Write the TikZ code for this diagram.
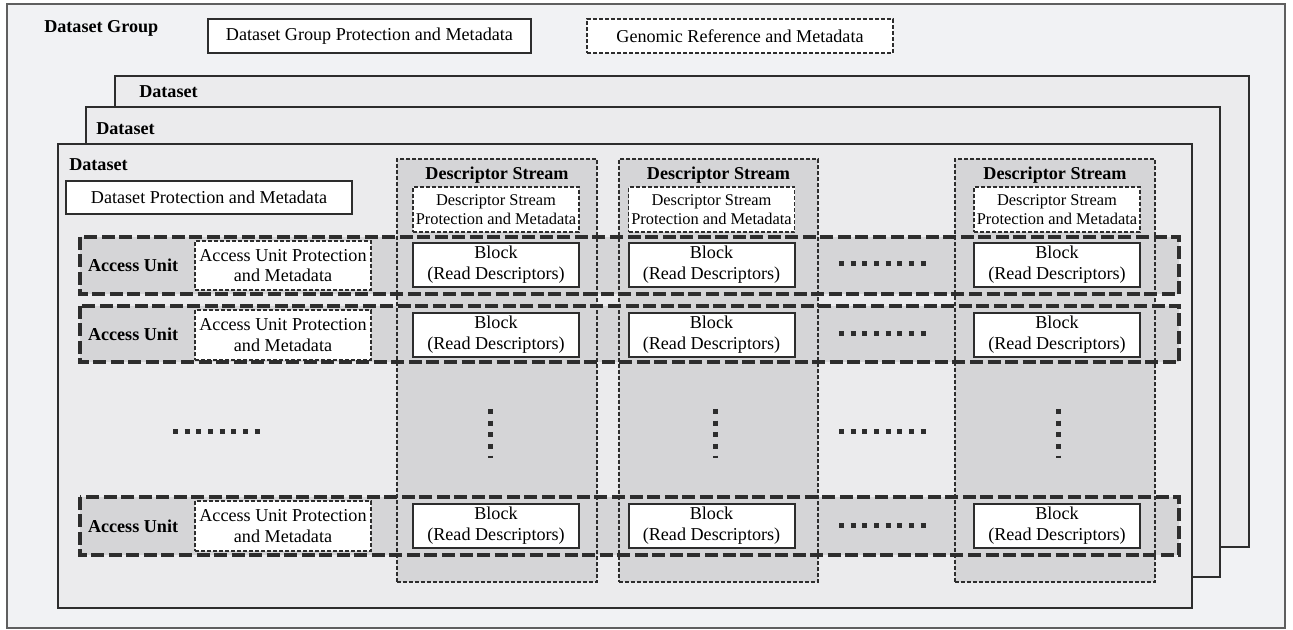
\documentclass[tikz,border=0pt]{standalone}
\usepackage{fontspec}
\setmainfont{Liberation Serif}
\usetikzlibrary{positioning, fit}

\definecolor{groupbg}{RGB}{241,242,244}
\definecolor{setbg}{RGB}{235,235,237}
\definecolor{streambg}{RGB}{213,213,215}
\definecolor{edgegray}{RGB}{45,45,45}
\definecolor{outergray}{RGB}{95,95,95}

\begin{document}
\begin{tikzpicture}[x=0.75pt, y=-0.75pt,
	every node/.style={font=\fontsize{13.6}{15.6}\selectfont, inner sep=0pt},
	boxsize/.style 2 args={minimum width=#1*0.75pt, minimum height=#2*0.75pt},
	groupbox/.style={draw=outergray, line width=1.5pt, fill=groupbg},
	setbox/.style={draw=edgegray, line width=1.5pt, fill=setbg},
	infobox/.style={draw=edgegray, line width=1.5pt, fill=white, align=center},
	dashinfo/.style={draw=edgegray, line width=1pt, dash pattern=on 3pt off 1.5pt, fill=white, align=center},
	streambox/.style={draw=edgegray, line width=1pt, dash pattern=on 3pt off 1.5pt, fill=streambg},
	unitfill/.style={fill=streambg},
	unitedge/.style={draw=edgegray, line width=3pt, dash pattern=on 9.75pt off 3.4pt},
	title/.style={font=\fontsize{13.6}{15.6}\selectfont\bfseries},
	smalltext/.style={font=\fontsize{12.3}{14.2}\selectfont},
	blockbox/.style={infobox, boxsize={166}{44}},
	dotline/.style={draw=edgegray, line width=3.75pt, dash pattern=on 3.75pt off 5pt}]
	\useasboundingbox (0,0) rectangle (1293,630);

	% dataset group and stacked datasets
	\node (group) [groupbox, fit={(7,4) (1285,628)}] {};
	\node (grouplbl) [title, below right=12.75pt and 28.5pt of group.north west, anchor=north west] {Dataset Group};
	\node (groupmeta) [infobox, boxsize={323}{34}] at (369.5,36) {Dataset Group Protection and Metadata};
	\node (genomic) [dashinfo, boxsize={306}{34}] at (740,36) {Genomic Reference and Metadata};

	\node (set3) [setbox, fit={(115,76) (1249,547)}] {};
	\node (set3lbl) [title, below right=7.5pt and 18.75pt of set3.north west, anchor=north west] {Dataset};
	\node (set2) [setbox, fit={(86,107) (1220,577)}] {};
	\node (set2lbl) [title, below right=12pt and 8.25pt of set2.north west, anchor=north west] {Dataset};
	\node (set1) [setbox, fit={(58,144) (1192,608)}] {};
	\node (set1lbl) [title, below right=11.25pt and 9pt of set1.north west, anchor=north west] {Dataset};
	\node (setmeta) [infobox, boxsize={286}{33}] at (209,197.5) {Dataset Protection and Metadata};

	% access unit rows (fill first, edges after the streams)
	\node (unit1) [unitfill, fit={(80,237) (1179,294)}] {};
	\node (unit2) [unitfill, fit={(80,306) (1179,362)}] {};
	\node (unit3) [unitfill, fit={(80,497) (1179,555)}] {};

	% descriptor streams
	\node (stream1) [streambox, fit={(397,159) (597,582)}] {};
	\node (stream2) [streambox, fit={(619,159) (818,582)}] {};
	\node (stream3) [streambox, fit={(955,159) (1155,582)}] {};

	\draw[unitedge] (unit1.north west) rectangle (unit1.south east);
	\draw[unitedge] (unit2.north west) rectangle (unit2.south east);
	\draw[unitedge] (unit3.north west) rectangle (unit3.south east);

	\node (stream1head) [title, below=6pt of stream1.north] {Descriptor Stream};
	\node (stream2head) [title, below=6pt of stream2.north] {Descriptor Stream};
	\node (stream3head) [title, below=6pt of stream3.north] {Descriptor Stream};
	\node (stream1meta) [dashinfo, smalltext, boxsize={166}{45}] at (496,209.5) {Descriptor Stream\\Protection and Metadata};
	\node (stream2meta) [dashinfo, smalltext, boxsize={166}{45}] at (711.5,209.5) {Descriptor Stream\\Protection and Metadata};
	\node (stream3meta) [dashinfo, smalltext, boxsize={166}{45}] at (1057,209.5) {Descriptor Stream\\Protection and Metadata};

	% access unit contents
	\node (unit1lbl) [title, right=6pt of unit1.west] {Access Unit};
	\node (unit2lbl) [title, right=6pt of unit2.west] {Access Unit};
	\node (unit3lbl) [title, right=6pt of unit3.west] {Access Unit};
	\node (unit1meta) [dashinfo, boxsize={176}{49}] at (283,265.5) {Access Unit Protection\\and Metadata};
	\node (unit2meta) [dashinfo, boxsize={176}{50}] at (283,335) {Access Unit Protection\\and Metadata};
	\node (unit3meta) [dashinfo, boxsize={176}{50}] at (283,526) {Access Unit Protection\\and Metadata};

	\node (block11) [blockbox] at (496,265) {Block\\(Read Descriptors)};
	\node (block12) [blockbox] at (711.5,265) {Block\\(Read Descriptors)};
	\node (block13) [blockbox] at (1057,265) {Block\\(Read Descriptors)};
	\node (block21) [blockbox] at (496,335) {Block\\(Read Descriptors)};
	\node (block22) [blockbox] at (711.5,335) {Block\\(Read Descriptors)};
	\node (block23) [blockbox] at (1057,335) {Block\\(Read Descriptors)};
	\node (block31) [blockbox] at (496,526) {Block\\(Read Descriptors)};
	\node (block32) [blockbox] at (711.5,526) {Block\\(Read Descriptors)};
	\node (block33) [blockbox] at (1057,526) {Block\\(Read Descriptors)};

	% ellipsis dots
	\draw[dotline] (839,264) -- (926,264);
	\draw[dotline] (839,334) -- (926,334);
	\draw[dotline] (839,526) -- (926,526);
	\draw[dotline] (839,432) -- (926,432);
	\draw[dotline] (173,432) -- (260,432);
	\draw[dotline] (490,409) -- (490,458);
	\draw[dotline] (715,409) -- (715,458);
	\draw[dotline] (1058,409) -- (1058,458);
\end{tikzpicture}
\end{document}
